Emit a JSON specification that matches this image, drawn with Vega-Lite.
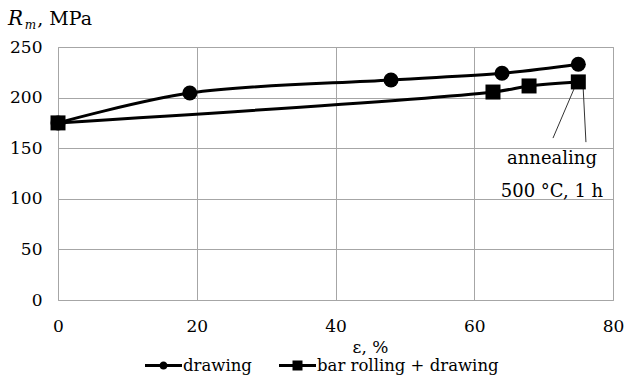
{
  "$schema": "https://vega.github.io/schema/vega-lite/v6.json",
  "width": 555,
  "height": 253,
  "autosize": "none",
  "padding": {"left": 58, "top": 47, "right": 13, "bottom": 83},
  "background": "white",
  "config": {
    "view": {"stroke": "#a6a6a6", "strokeWidth": 1},
    "font": "DejaVu Serif",
    "axis": {
      "labelFont": "DejaVu Serif",
      "labelFontSize": 17,
      "labelColor": "black",
      "ticks": false,
      "domain": false,
      "gridColor": "#a6a6a6",
      "gridWidth": 1,
      "gridOpacity": 1,
      "titleFont": "DejaVu Serif",
      "titleFontSize": 17,
      "titleColor": "black",
      "titleFontWeight": "normal"
    },
    "legend": {
      "labelFont": "DejaVu Serif",
      "labelFontSize": 16.5,
      "labelColor": "black",
      "labelLimit": 0
    }
  },
  "datasets": {
    "series": [
      {"series": "drawing", "x": 0, "y": 175},
      {"series": "drawing", "x": 19, "y": 204.5},
      {"series": "drawing", "x": 48, "y": 217.4},
      {"series": "drawing", "x": 64, "y": 224},
      {"series": "drawing", "x": 75, "y": 233},
      {"series": "bar rolling + drawing", "x": 0, "y": 175},
      {"series": "bar rolling + drawing", "x": 62.7, "y": 205.5},
      {"series": "bar rolling + drawing", "x": 67.9, "y": 211.5},
      {"series": "bar rolling + drawing", "x": 75, "y": 215.5}
    ],
    "leaders": [
      {"x": 71.35, "y": 160, "x2": 74.5, "y2": 210.5},
      {"x": 76.1, "y": 156, "x2": 75.7, "y2": 209.5}
    ],
    "notes": [
      {"label": "annealing", "x": 71.2, "y": 134},
      {"label": "500 °C, 1 h", "x": 71.2, "y": 102}
    ],
    "one": [{}]
  },
  "layer": [
    {
      "data": {"name": "leaders"},
      "mark": {"type": "rule", "color": "#333333", "strokeWidth": 1},
      "encoding": {
        "x": {"field": "x", "type": "quantitative"},
        "y": {"field": "y", "type": "quantitative"},
        "x2": {"field": "x2"},
        "y2": {"field": "y2"}
      }
    },
    {
      "data": {"name": "series"},
      "mark": {"type": "line", "interpolate": "catmull-rom", "color": "black", "strokeWidth": 3},
      "encoding": {
        "x": {
          "field": "x", "type": "quantitative",
          "scale": {"domain": [0, 80], "nice": false},
          "axis": {
            "values": [0, 20, 40, 60, 80],
            "labelPadding": 18,
            "labelFlush": false,
            "title": "ε, %",
            "titleX": 312,
            "titleY": 47,
            "titleBaseline": "middle",
            "titleAlign": "center"
          }
        },
        "y": {
          "field": "y", "type": "quantitative",
          "scale": {"domain": [0, 250], "nice": false},
          "axis": {
            "values": [0, 50, 100, 150, 200, 250],
            "labelPadding": 16,
            "title": null
          }
        },
        "detail": {"field": "series"},
        "order": {"field": "x"}
      }
    },
    {
      "data": {"name": "series"},
      "transform": [{"filter": "datum.series == 'drawing'"}],
      "mark": {"type": "point", "shape": "circle", "filled": true, "color": "black", "opacity": 1, "size": 225},
      "encoding": {
        "x": {"field": "x", "type": "quantitative"},
        "y": {"field": "y", "type": "quantitative"}
      }
    },
    {
      "data": {"name": "series"},
      "transform": [{"filter": "datum.series != 'drawing'"}],
      "mark": {"type": "point", "shape": "square", "filled": true, "color": "black", "opacity": 1, "size": 225},
      "encoding": {
        "x": {"field": "x", "type": "quantitative"},
        "y": {"field": "y", "type": "quantitative"}
      }
    },
    {
      "data": {"name": "series"},
      "transform": [{"filter": "datum.x < -1000"}],
      "mark": {"type": "point", "filled": true, "color": "black", "opacity": 1, "size": 1369, "strokeWidth": 0},
      "encoding": {
        "x": {"field": "x", "type": "quantitative"},
        "y": {"field": "y", "type": "quantitative"},
        "shape": {
          "field": "series", "type": "nominal",
          "scale": {
            "domain": ["drawing", "bar rolling + drawing"],
            "range": [
              "M-1,-0.08H1V0.08H-1Z M0.22,0A0.22,0.22 0 1,1 -0.22,0A0.22,0.22 0 1,1 0.22,0Z",
              "M-1,-0.08H1V0.08H-1Z M-0.27,-0.27H0.27V0.27H-0.27Z"
            ]
          },
          "legend": {
            "title": null,
            "orient": "none",
            "direction": "horizontal",
            "legendX": 87,
            "legendY": 300,
            "padding": 0,
            "columnPadding": 27,
            "labelOffset": 1,
            "symbolSize": 1369,
            "symbolFillColor": "black",
            "symbolStrokeWidth": 0,
            "symbolOpacity": 1
          }
        }
      }
    },
    {
      "data": {"name": "notes"},
      "mark": {"type": "text", "font": "DejaVu Serif", "fontSize": 18, "color": "black", "align": "center", "baseline": "alphabetic"},
      "encoding": {
        "x": {"field": "x", "type": "quantitative"},
        "y": {"field": "y", "type": "quantitative"},
        "text": {"field": "label"}
      }
    },
    {
      "data": {"name": "one"},
      "mark": {"type": "text", "font": "DejaVu Serif", "fontSize": 20, "fontStyle": "italic", "color": "black", "align": "left", "baseline": "alphabetic"},
      "encoding": {
        "x": {"datum": -7.2},
        "y": {"datum": 271.7},
        "text": {"value": "R"}
      }
    },
    {
      "data": {"name": "one"},
      "mark": {"type": "text", "font": "DejaVu Serif", "fontSize": 12, "fontStyle": "italic", "color": "black", "align": "left", "baseline": "alphabetic"},
      "encoding": {
        "x": {"datum": -4.8},
        "y": {"datum": 267.8},
        "text": {"value": "m"}
      }
    },
    {
      "data": {"name": "one"},
      "mark": {"type": "text", "font": "DejaVu Serif", "fontSize": 19, "color": "black", "align": "left", "baseline": "alphabetic"},
      "encoding": {
        "x": {"datum": -3.0},
        "y": {"datum": 271.7},
        "text": {"value": ", MPa"}
      }
    }
  ]
}
